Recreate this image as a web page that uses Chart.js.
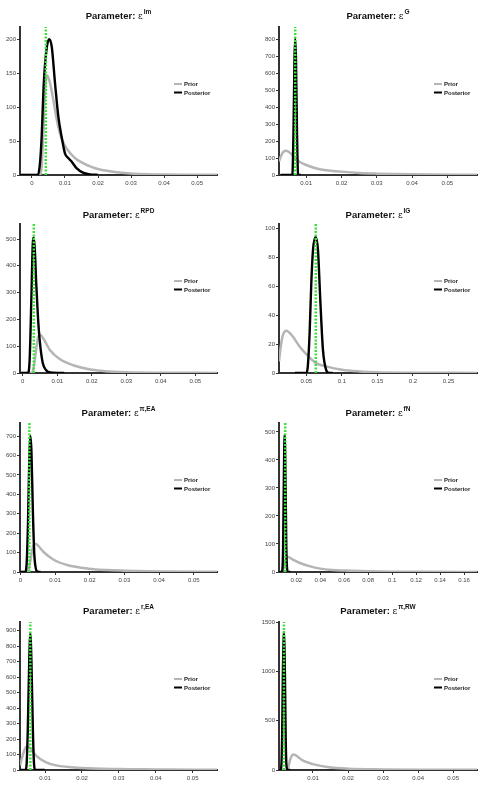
<!DOCTYPE html>
<html lang="en">
<head>
<meta charset="UTF-8">
<title>Priors and posteriors of the shock standard deviations</title>
<script src="https://cdn.jsdelivr.net/npm/chart.js"></script>
<style>
  body { margin: 0; width: 486px; height: 804px; background: #fff; position: relative; overflow: hidden; }
  canvas { position: absolute; }
</style>
</head>
<body>
<canvas id="c0" width="243" height="200" style="left:0;top:0"></canvas>
<canvas id="c1" width="243" height="200" style="left:243px;top:0"></canvas>
<canvas id="c2" width="243" height="200" style="left:0;top:200px"></canvas>
<canvas id="c3" width="243" height="200" style="left:243px;top:200px"></canvas>
<canvas id="c4" width="243" height="200" style="left:0;top:400px"></canvas>
<canvas id="c5" width="243" height="200" style="left:243px;top:400px"></canvas>
<canvas id="c6" width="243" height="204" style="left:0;top:600px"></canvas>
<canvas id="c7" width="243" height="204" style="left:243px;top:600px"></canvas>
<script>
// superscripts of the shock names in the titles
const shockNames = ['Im', 'G', 'RPD', 'IG', 'π,EA', 'fN', 'r,EA', 'π,RW'];
// posterior modes (green dotted lines)
const modes = [0.0042, 0.0069, 0.0032, 0.0633, 0.0026, 0.0108, 0.006, 0.0017];
// axis ranges
const xMins = [-0.0036, 0.0023, -0.0008, 0.0116, -0.0001, 0.0056, 0.0032, 0.0003];
const xMaxs = [0.056, 0.0584, 0.0563, 0.29, 0.0567, 0.1708, 0.0566, 0.0568];
const yMaxs = [218, 876, 556, 103, 767, 532, 957, 1500];

// tick values
const xTicksZero = [0, 0.01, 0.02, 0.03, 0.04, 0.05];
const xTicksHundredth = [0.01, 0.02, 0.03, 0.04, 0.05];
const xTicksIG = [0.05, 0.1, 0.15, 0.2, 0.25];
const xTicksFN = [0.02, 0.04, 0.06, 0.08, 0.1, 0.12, 0.14, 0.16];
const yTicksIm = [0, 50, 100, 150, 200];
const yTicksG = [0, 100, 200, 300, 400, 500, 600, 700, 800];
const yTicksRPD = [0, 100, 200, 300, 400, 500];
const yTicksIG = [0, 20, 40, 60, 80, 100];
const yTicksPiEA = [0, 100, 200, 300, 400, 500, 600, 700];
const yTicksFN = [0, 100, 200, 300, 400, 500];
const yTicksREA = [0, 100, 200, 300, 400, 500, 600, 700, 800, 900];
const yTicksPiRW = [0, 500, 1000, 1500];

// densities, [x, density]
const priorIm = [[-0.0036, 0], [0.0025, 0], [0.003, 15], [0.0035, 70], [0.004, 125], [0.0046, 147], [0.0055, 135], [0.0065, 110],
  [0.0075, 82], [0.0085, 61], [0.0095, 48], [0.0105, 39], [0.013, 25], [0.0156, 17], [0.018, 12], [0.0206, 8],
  [0.0257, 4], [0.0307, 2], [0.0408, 0.6], [0.056, 0.2]];
const postIm = [[-0.0036, 0], [0.0018, 0], [0.0024, 15], [0.0029, 51], [0.0036, 135], [0.0044, 184], [0.0052, 200],
  [0.006, 189], [0.007, 135], [0.008, 86], [0.009, 56], [0.01, 32], [0.011, 25], [0.012, 20], [0.0135, 10],
  [0.0156, 3], [0.0176, 1], [0.02, 0]];

const priorG = [[0.0023, 80], [0.003, 118], [0.0036, 138], [0.0043, 144], [0.005, 138], [0.006, 120], [0.0069, 99],
  [0.008, 80], [0.01, 59], [0.0138, 34], [0.02, 20], [0.025, 12], [0.03, 8], [0.039, 4], [0.0584, 1]];
const postG = [[0.0028, 0], [0.0058, 0], [0.0061, 5], [0.0064, 250], [0.0067, 700], [0.0069, 805], [0.0071, 700],
  [0.0074, 250], [0.0077, 5], [0.008, 0], [0.0085, 0]];

const priorRPD = [[-0.0008, 0], [0.0025, 0], [0.003, 10], [0.0035, 50], [0.004, 100], [0.0045, 135], [0.005, 143],
  [0.006, 128], [0.007, 105], [0.0078, 87], [0.0107, 52], [0.0146, 29], [0.02, 12], [0.025, 6], [0.03, 2.5],
  [0.04, 1], [0.0563, 0.3]];
const postRPD = [[-0.0008, 0], [0.0015, 0], [0.002, 50], [0.0025, 280], [0.0029, 480], [0.0032, 505], [0.0035, 460],
  [0.0039, 335], [0.0044, 210], [0.0049, 124], [0.0058, 37], [0.0068, 10], [0.008, 2], [0.012, 0]];

const priorIG = [[0.0116, 8], [0.014, 18], [0.017, 26], [0.0219, 29.2], [0.026, 28], [0.0313, 25], [0.041, 18],
  [0.05, 13], [0.063, 7], [0.078, 4.6], [0.1, 2.3], [0.125, 1.1], [0.148, 0.5], [0.2, 0.2], [0.29, 0.05]];
const postIG = [[0.034, 0], [0.05, 0], [0.052, 4], [0.0547, 28], [0.057, 62], [0.0594, 85], [0.0631, 94],
  [0.0664, 85], [0.0697, 50], [0.0734, 16], [0.078, 2], [0.082, 0], [0.087, 0]];

const priorPiEA = [[-0.0001, 0], [0.002, 0], [0.0025, 20], [0.003, 70], [0.0035, 120], [0.004, 143], [0.0043, 146],
  [0.005, 138], [0.0067, 103], [0.0096, 63], [0.0135, 36], [0.0197, 17], [0.025, 10], [0.03, 7], [0.04, 3],
  [0.0567, 1.5]];
const postPiEA = [[-0.0001, 0], [0.0014, 0], [0.0018, 40], [0.0022, 250], [0.0026, 600], [0.0029, 700],
  [0.0032, 620], [0.0036, 320], [0.004, 100], [0.0045, 15], [0.005, 2], [0.0058, 0]];

const priorFN = [[0.0056, 0], [0.008, 0], [0.009, 8], [0.01, 25], [0.011, 42], [0.012, 52], [0.0131, 54],
  [0.0172, 44], [0.0226, 33], [0.031, 21], [0.04, 12], [0.05, 7], [0.06, 5], [0.08, 2.4], [0.1, 1.2],
  [0.13, 0.6], [0.1708, 0.3]];
const postFN = [[0.0056, 0], [0.008, 0], [0.009, 80], [0.0097, 350], [0.0103, 490], [0.011, 350], [0.0117, 90],
  [0.0125, 5], [0.013, 0], [0.015, 0]];

const priorREA = [[0.0032, 30], [0.004, 100], [0.0045, 135], [0.005, 152], [0.0055, 150], [0.006, 140],
  [0.007, 110], [0.0077, 90], [0.01, 53], [0.013, 30], [0.02, 13], [0.03, 6], [0.04, 4], [0.05, 2], [0.0566, 1.5]];
const postREA = [[0.0032, 0], [0.0047, 0], [0.005, 40], [0.0053, 250], [0.0057, 700], [0.006, 882], [0.0063, 700],
  [0.0067, 250], [0.007, 40], [0.0073, 0], [0.0099, 0]];

const priorPiRW = [[0.0003, 0], [0.0026, 0], [0.003, 35], [0.0034, 95], [0.0038, 135], [0.0043, 157], [0.005, 150],
  [0.006, 125], [0.0069, 100], [0.01, 60], [0.0145, 27], [0.02, 13], [0.03, 6], [0.04, 3], [0.0568, 1.5]];
const postPiRW = [[0.0003, 0], [0.0008, 0], [0.001, 60], [0.0012, 350], [0.0014, 950], [0.0017, 1400],
  [0.002, 950], [0.0022, 350], [0.0024, 60], [0.0027, 0], [0.0035, 0]];

const priors = [priorIm, priorG, priorRPD, priorIG, priorPiEA, priorFN, priorREA, priorPiRW];
const posts = [postIm, postG, postRPD, postIG, postPiEA, postFN, postREA, postPiRW];
const xTickSets = [xTicksZero, xTicksHundredth, xTicksZero, xTicksIG, xTicksZero, xTicksFN, xTicksHundredth, xTicksHundredth];
const yTickSets = [yTicksIm, yTicksG, yTicksRPD, yTicksIG, yTicksPiEA, yTicksFN, yTicksREA, yTicksPiRW];

const sans = '"Liberation Sans", Arial, sans-serif';
const rowTop = [27, 24, 23, 22];
const rowAxisH = [25, 27, 28, 34];
const rowTitleY = [19, 17.5, 16, 14];

// title with superscript and the little legend
const panelDecor = {
  id: 'panelDecor',
  afterDraw(chart, args, opts) {
    const ctx = chart.ctx, a = chart.chartArea;
    ctx.save();
    const t1 = 'Parameter: ', t2 = 'ε', t3 = opts.sup;
    ctx.font = 'bold 9.5px ' + sans;
    const w1 = ctx.measureText(t1).width;
    ctx.font = '9px "DejaVu Serif", serif';
    const w2 = ctx.measureText(t2).width;
    ctx.font = 'bold 6.5px ' + sans;
    const w3 = ctx.measureText(t3).width;
    let x = (a.left + a.right) / 2 - (w1 + w2 + w3 + 1) / 2;
    const y = opts.titleY;
    ctx.fillStyle = '#111';
    ctx.textBaseline = 'alphabetic';
    ctx.textAlign = 'left';
    ctx.font = 'bold 9.5px ' + sans;
    ctx.fillText(t1, x, y);
    x += w1;
    ctx.font = '9px "DejaVu Serif", serif';
    ctx.fillText(t2, x, y);
    x += w2 + 1;
    ctx.font = 'bold 6.5px ' + sans;
    ctx.fillText(t3, x, y - 5);

    // legend
    const lx = a.right - 43;
    let ly = a.top + 57;
    ctx.textBaseline = 'middle';
    ctx.font = 'bold 6px ' + sans;
    chart.data.datasets.forEach(ds => {
      if (!ds.inLegend) return;
      ctx.strokeStyle = ds.borderColor;
      ctx.lineWidth = 2;
      ctx.beginPath();
      ctx.moveTo(lx, ly);
      ctx.lineTo(lx + 8, ly);
      ctx.stroke();
      ctx.fillStyle = '#222';
      ctx.fillText(ds.label, lx + 10, ly + 0.5);
      ly += 8.5;
    });
    ctx.restore();
  }
};

const toPoints = arr => arr.map(p => ({ x: p[0], y: p[1] }));

for (let i = 0; i < 8; i++) {
  const col = i % 2, row = Math.floor(i / 2);
  const xt = xTickSets[i], yt = yTickSets[i];
  new Chart(document.getElementById('c' + i), {
    type: 'line',
    data: {
      datasets: [{
        label: 'Prior',
        inLegend: true,
        data: toPoints(priors[i]),
        borderColor: '#b5b5b5',
        borderWidth: 2.5,
        pointRadius: 0,
        cubicInterpolationMode: 'monotone',
        order: 2
      }, {
        label: 'Posterior',
        inLegend: true,
        data: toPoints(posts[i]),
        borderColor: '#000',
        borderWidth: 2.4,
        pointRadius: 0,
        cubicInterpolationMode: 'monotone',
        order: 1
      }, {
        label: 'Mode',
        data: [{ x: modes[i], y: 0 }, { x: modes[i], y: yMaxs[i] }],
        borderColor: '#3ee03e',
        borderWidth: 2.5,
        borderDash: [2, 1.5],
        pointRadius: 0,
        order: 0
      }]
    },
    options: {
      responsive: false,
      animation: false,
      devicePixelRatio: 1,
      layout: { padding: { left: 0, right: col === 0 ? 26 : 9, top: rowTop[row], bottom: 0 } },
      plugins: {
        legend: { display: false },
        tooltip: { enabled: false },
        panelDecor: { sup: shockNames[i], titleY: rowTitleY[row] }
      },
      scales: {
        x: {
          type: 'linear',
          min: xMins[i],
          max: xMaxs[i],
          afterBuildTicks: s => { s.ticks = xt.map(v => ({ value: v })); },
          afterFit: s => { s.height = rowAxisH[row]; },
          border: { display: true, color: '#333', width: 2 },
          grid: { display: true, drawOnChartArea: false, drawTicks: true, tickLength: 3, color: '#333' },
          ticks: {
            autoSkip: false, maxRotation: 0, padding: 2,
            color: '#444', font: { family: sans, size: 6 },
            callback: v => String(v)
          }
        },
        y: {
          min: 0,
          max: yMaxs[i],
          afterBuildTicks: s => { s.ticks = yt.map(v => ({ value: v })); },
          afterFit: s => { s.width = col === 0 ? 20 : 36; },
          border: { display: true, color: '#333', width: 2 },
          grid: { display: true, drawOnChartArea: false, drawTicks: true, tickLength: 3, color: '#333' },
          ticks: {
            autoSkip: false, padding: 1,
            color: '#444', font: { family: sans, size: 6 },
            callback: v => String(v)
          }
        }
      }
    },
    plugins: [panelDecor]
  });
}
</script>
</body>
</html>
